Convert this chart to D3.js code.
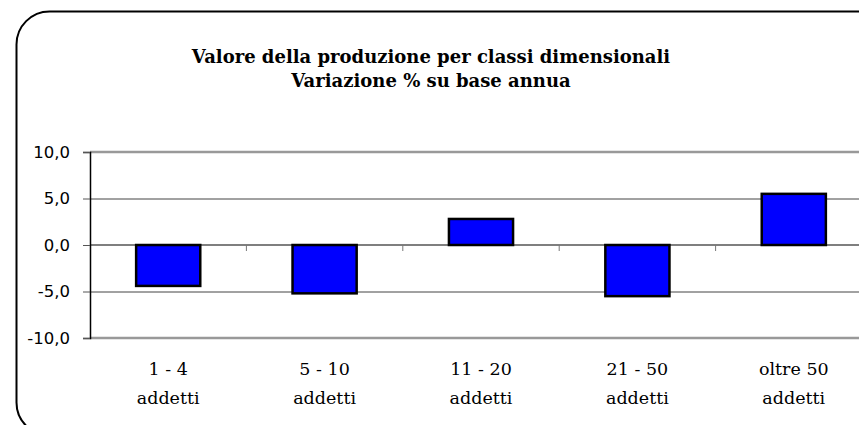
<!DOCTYPE html>
<html>
<head>
<meta charset="utf-8">
<script src="https://cdn.jsdelivr.net/npm/d3@7"></script>
<style>
  body { margin: 0; background: #fff; }
  svg { display: block; }
  .serif { font-family: "DejaVu Serif", "Liberation Serif", serif; }
</style>
</head>
<body>
<div id="chart"></div>
<script>
const categories = [["1 - 4", "addetti"], ["5 - 10", "addetti"], ["11 - 20", "addetti"], ["21 - 50", "addetti"], ["oltre 50", "addetti"]]
const values = [-4.4, -5.2, 2.8, -5.5, 5.5]
const yTicks = [10, 5, 0, -5, -10]
const titleLines = ["Valore della produzione per classi dimensionali", "Variazione % su base annua"]

const width = 859
const height = 425
const plot = { left: 90, right: 872, top: 152, bottom: 338 }

const svg = d3.select("#chart").append("svg").attr("width", width).attr("height", height)

// outer rounded frame
svg.append("rect")
  .attr("x", 16.5).attr("y", 11.5)
  .attr("width", 920).attr("height", 424)
  .attr("rx", 33).attr("ry", 33)
  .attr("fill", "none").attr("stroke", "#000").attr("stroke-width", 2)

const title = svg.append("text")
  .attr("class", "serif")
  .attr("text-anchor", "middle")
  .style("font-weight", "bold")
  .style("font-size", "18px")
title.selectAll("tspan").data(titleLines).enter().append("tspan")
  .attr("x", 431)
  .attr("y", function(d, i) { return 63 + i * 24 })
  .text(function(d) { return d })

const xScale = d3.scaleBand()
  .domain(d3.range(categories.length))
  .range([plot.left, plot.right])
  .paddingInner(0.59).paddingOuter(0.295)

const band = (plot.right - plot.left) / categories.length

const yScale = d3.scaleLinear()
  .domain([-10, 10])
  .range([plot.bottom, plot.top])

const locale = d3.formatLocale({ decimal: ",", thousands: ".", grouping: [3], currency: ["", "€"], minus: "-" })
const fmt = locale.format(".1f")

// gridlines
svg.append("g").selectAll("line")
  .data([5, -5]).enter().append("line")
  .attr("x1", plot.left).attr("x2", width)
  .attr("y1", function(d) { return yScale(d) + 0.5 })
  .attr("y2", function(d) { return yScale(d) + 0.5 })
  .attr("stroke", "#444").attr("stroke-width", 1)

// plot area top / bottom border
svg.append("g").selectAll("line")
  .data([10, -10]).enter().append("line")
  .attr("x1", plot.left).attr("x2", width)
  .attr("y1", function(d) { return yScale(d) })
  .attr("y2", function(d) { return yScale(d) })
  .attr("stroke", "#999").attr("stroke-width", 2.5)

// y axis
const yAxis = svg.append("g")
  .attr("transform", "translate(" + plot.left + ",0)")
  .call(d3.axisLeft(yScale).tickValues(yTicks).tickFormat(fmt).tickSize(7).tickPadding(13))
yAxis.select(".domain").attr("stroke", "#000").attr("stroke-width", 1.5)
yAxis.selectAll(".tick line").attr("stroke", "#555")
yAxis.selectAll("text")
  .style("font-family", "'DejaVu Sans', sans-serif")
  .style("font-size", "16.5px")
  .attr("fill", "#000")

// bars
svg.append("g").selectAll("rect")
  .data(values).enter().append("rect")
  .attr("x", function(d, i) { return xScale(i) })
  .attr("width", xScale.bandwidth())
  .attr("y", function(d) { return yScale(Math.max(0, d)) })
  .attr("height", function(d) { return Math.abs(yScale(d) - yScale(0)) })
  .attr("fill", "#0000ff")
  .attr("stroke", "#000").attr("stroke-width", 2.5)

// zero line
svg.append("line")
  .attr("x1", plot.left).attr("x2", width)
  .attr("y1", yScale(0)).attr("y2", yScale(0))
  .attr("stroke", "#000").attr("stroke-width", 1.2)

// category ticks below zero line
svg.append("g").selectAll("line")
  .data(d3.range(1, categories.length)).enter().append("line")
  .attr("x1", function(d) { return plot.left + d * band })
  .attr("x2", function(d) { return plot.left + d * band })
  .attr("y1", yScale(0)).attr("y2", yScale(0) + 6)
  .attr("stroke", "#777").attr("stroke-width", 1)

// category labels
const labels = svg.append("g")
  .attr("class", "serif")
  .style("font-size", "17.5px")
  .attr("text-anchor", "middle")
labels.selectAll("text")
  .data(categories).enter().append("text")
  .each(function(d, i) {
    d3.select(this).selectAll("tspan").data(d).enter().append("tspan")
      .attr("x", xScale(i) + xScale.bandwidth() / 2)
      .attr("y", function(t, j) { return 375 + j * 29 })
      .text(function(t) { return t })
  })
</script>
</body>
</html>
